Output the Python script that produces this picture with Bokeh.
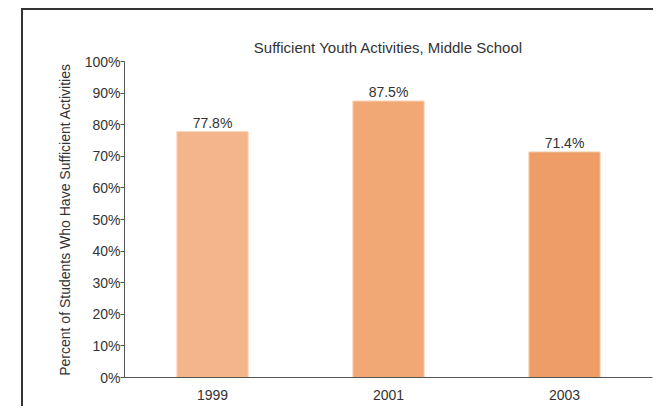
from bokeh.plotting import figure
from bokeh.models import ColumnDataSource, FixedTicker
from bokeh.embed import file_html
from bokeh.resources import INLINE
from bokeh.core.properties import value

# ---- data ----
years = ["1999", "2001", "2003"]
percents = [77.8, 87.5, 71.4]
bar_labels = ["77.8%", "87.5%", "71.4%"]
bar_colors = ["#F4B58A", "#F2A875", "#EE9D66"]
y_ticks = [0, 10, 20, 30, 40, 50, 60, 70, 80, 90, 100]
y_tick_labels = ["0%", "10%", "20%", "30%", "40%", "50%", "60%", "70%", "80%", "90%", "100%"]
title_text = "Sufficient Youth Activities, Middle School"
y_axis_title = "Percent of Students Who Have Sufficient Activities"

FONT = "Liberation Sans"
TXT = "#333333"

src = ColumnDataSource(dict(year=years, pct=percents, lab=bar_labels, col=bar_colors))

p = figure(
    x_range=years, y_range=(0, 100),
    width=632, height=398,
    output_backend="svg", toolbar_location=None,
    min_border_left=101, min_border_right=3, min_border_top=51, min_border_bottom=31,
    margin=(8, 0, 0, 21),
)
p.styles = {"border-top": "2px solid #333333", "border-left": "2px solid #333333"}

p.vbar(x="year", top="pct", width=0.405, source=src, fill_color="col",
       line_color="#F9D3B6", line_width=1)

p.text(x="year", y="pct", text="lab", source=src, text_align="center",
       text_baseline="bottom", y_offset=-1, text_font=value(FONT),
       text_font_size="14px", text_color=TXT)

p.title.text = title_text
p.title.align = "center"
p.title.text_font = FONT
p.title.text_font_size = "15px"
p.title.text_font_style = "normal"
p.title.text_color = TXT
p.title.standoff = 11

p.xgrid.grid_line_color = None
p.ygrid.grid_line_color = None
p.outline_line_color = None
p.background_fill_color = "white"
p.border_fill_color = "white"

ya = p.yaxis[0]
ya.ticker = FixedTicker(ticks=y_ticks)
ya.major_label_overrides = {t: l for t, l in zip(y_ticks, y_tick_labels)}
ya.axis_label = y_axis_title
ya.axis_label_text_font = FONT
ya.axis_label_text_font_size = "14px"
ya.axis_label_text_font_style = "normal"
ya.axis_label_text_color = TXT
ya.axis_label_standoff = 9
ya.major_label_text_font = FONT
ya.major_label_text_font_size = "14px"
ya.major_label_text_color = TXT
ya.major_label_standoff = 0
ya.major_tick_in = 0
ya.major_tick_out = 4
ya.minor_tick_line_color = None
ya.axis_line_color = "#555555"
ya.major_tick_line_color = "#555555"

xa = p.xaxis[0]
xa.major_label_text_font = FONT
xa.major_label_text_font_size = "14px"
xa.major_label_text_color = TXT
xa.major_label_standoff = 6
xa.major_tick_line_color = None
xa.minor_tick_line_color = None
xa.axis_line_color = "#555555"

open("out.html", "w").write(file_html(p, INLINE))
